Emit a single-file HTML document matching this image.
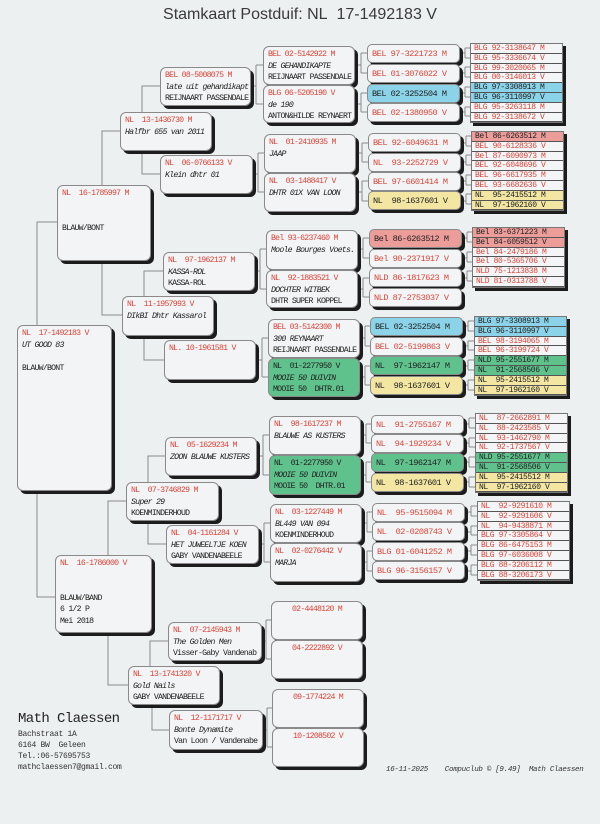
<!DOCTYPE html>
<html><head><meta charset="utf-8"><style>
body{margin:0;width:600px;height:824px;background:#edf0f1;position:relative;overflow:hidden;font-family:"Liberation Mono",monospace}
.t{position:absolute;left:0;top:6px;width:600px;text-align:center;font:16px "Liberation Sans",sans-serif;color:#3a3a3a;padding-left:0}
.b{position:absolute;border:1px solid #8a8a8a;border-radius:6px;background:#f3f4f5;box-shadow:3px 3px 0 #1c1c1c;font-size:8.2px;letter-spacing:-0.75px;line-height:11.5px;padding:2px 0 0 4px;white-space:pre;overflow:hidden;box-sizing:border-box;color:#222}
.r{color:#d9463b}.i{font-style:italic}
.s{position:absolute;border:1px solid #8a8a8a;border-radius:5px;background:#f3f4f5;box-shadow:3px 3px 0 #1c1c1c;font-size:8.6px;letter-spacing:-0.5px;height:19px;line-height:18px;padding-left:4px;white-space:pre;box-sizing:border-box;color:#d9463b}
.g{position:absolute;border:1px solid #777;background:#f4f5f6;box-shadow:3px 3px 0 #1c1c1c;box-sizing:border-box;width:93px}
.g div{height:9.8px;line-height:10px;font-size:8px;letter-spacing:-0.4px;padding-left:3px;border-bottom:1px solid #555;box-sizing:border-box;white-space:pre;color:#d9463b;overflow:hidden}
.bl{background:#8ad3e8 !important;color:#222 !important}
.gr{background:#5fc28c !important;color:#222 !important}
.ye{background:#f2e6a2 !important;color:#222 !important}
.pk{background:#ec9d9a !important;color:#222 !important}
.c{text-align:center;padding-left:0}
svg{position:absolute;left:0;top:0}
.f{position:absolute;font-size:8px;color:#333;white-space:pre;letter-spacing:-0.3px}
</style></head><body>
<div class="t">Stamkaart Postduif: NL&nbsp;&nbsp;17-1492183 V</div>
<svg width="600" height="824" fill="none" stroke="#8a8a8a" stroke-width="1">
<path d="M37 325V222H57M37 490V597H55"/>
<path d="M102 185V131H120M102 260V315H122"/>
<path d="M142 112V86H160M142 150V174H160M144 296V271H163M144 335V360H164"/>
<path d="M108 555V501H126M108 632V685H128M148 482V456H165M148 521V544H166M150 666V641H168M152 705V730H169"/>
<path d="M250 86H256M256 65V104M256 65H263M256 104H263"/>
<path d="M253 174H258M258 153V192M258 153H264M258 192H264"/>
<path d="M255 271H260M260 249V289M260 249H266M260 289H266"/>
<path d="M256 360H262M262 338V377M262 338H268M262 377H268"/>
<path d="M257 456H263M263 435V475M263 435H269M263 475H269"/>
<path d="M259 544H264M264 523V562M264 523H270M264 562H270"/>
<path d="M262 641H266M266 620V659M266 620H271M266 659H271"/>
<path d="M263 730H267M267 708V747M267 708H272M267 747H272"/>
<path d="M355 65H361M361 53V73M361 53H367M361 73H367M355 104H361M361 93V112M361 93H367M361 112H367"/>
<path d="M356 153H362M362 143V162M362 143H368M362 162H368M356 192H362M362 181V201M362 181H368M362 201H368"/>
<path d="M358 249H363M363 238V258M363 238H369M363 258H369M358 289H363M363 278V297M363 278H369M363 297H369"/>
<path d="M360 338H365M365 326V346M365 326H370M365 346H370M360 377H365M365 366V385M365 366H370M365 385H370"/>
<path d="M361 435H366M366 424V443M366 424H371M366 443H371M361 475H366M366 462V482M366 462H371M366 482H371"/>
<path d="M362 523H367M367 512V532M367 512H372M367 532H372M362 562H367M367 551V571M367 551H372M367 571H372"/>
<path d="M460 53H465M465 48V58M465 48H470M465 58H470M460 73H465M465 67V77M465 67H470M465 77H470M460 93H465M465 87V97M465 87H470M465 97H470M460 112H465M465 107V116M465 107H470M465 116H470"/>
<path d="M461 143H466M466 136V146M466 136H471M466 146H471M461 162H466M466 155V165M466 155H471M466 165H471M461 181H466M466 175V185M466 175H471M466 185H471M461 201H466M466 194V204M466 194H471M466 204H471"/>
<path d="M462 238H467M467 232V242M467 232H472M467 242H472M462 258H467M467 252V262M467 252H472M467 262H472M462 278H467M467 271V281M467 271H472M467 281H472"/>
<path d="M463 326H468M468 321V331M468 321H474M468 331H474M463 346H468M468 341V350M468 341H474M468 350H474M463 366H468M468 360V370M468 360H474M468 370H474M463 385H468M468 380V390M468 380H474M468 390H474"/>
<path d="M464 424H469M469 418V428M469 418H475M469 428H475M464 443H469M469 438V447M469 438H475M469 447H475M464 462H469M469 457V467M469 457H475M469 467H475M464 482H469M469 477V487M469 477H475M469 487H475"/>
<path d="M465 512H471M471 506V516M471 506H477M471 516H477M465 532H471M471 526V535M471 526H477M471 535H477M465 551H471M471 545V555M471 545H477M471 555H477M465 571H471M471 565V575M471 565H477M471 575H477"/>
</svg>

<div class="b" style="left:17px;top:325px;width:95px;height:166px"><span class="r">NL  17-1492183 V</span>
<span class="i">UT GOOD 83</span>

BLAUW/BONT</div>
<div class="b" style="left:57px;top:185px;width:94px;height:76px"><span class="r">NL  16-1785997 M</span>


BLAUW/BONT</div>
<div class="b" style="left:55px;top:555px;width:97px;height:78px"><span class="r">NL  16-1786000 V</span>


BLAUW/BAND
6 1/2 P
Mei 2018</div>

<div class="b" style="left:120px;top:112px;width:92px;height:39px"><span class="r">NL  13-1436730 M</span>
<span class="i">Halfbr 655 van 2011</span></div>
<div class="b" style="left:122px;top:296px;width:92px;height:40px"><span class="r">NL  11-1957993 V</span>
<span class="i">DIkBI Dhtr Kassarol</span></div>
<div class="b" style="left:126px;top:482px;width:93px;height:39px"><span class="r">NL  07-3746829 M</span>
<span class="i">Super 29</span>
KOENMINDERHOUD</div>
<div class="b" style="left:128px;top:666px;width:92px;height:39px"><span class="r">NL  13-1741320 V</span>
<span class="i">Gold Nails</span>
GABY VANDENABEELE</div>

<div class="b" style="left:160px;top:67px;width:91px;height:39px"><span class="r">BEL 08-5008075 M</span>
<span class="i">late uit gehandikapt</span>
REIJNAART PASSENDALE</div>
<div class="b" style="left:160px;top:155px;width:93px;height:39px"><span class="r">NL  06-0766133 V</span>
<span class="i">Klein dhtr 01</span></div>
<div class="b" style="left:163px;top:252px;width:92px;height:39px"><span class="r">NL  97-1962137 M</span>
<span class="i">KASSA-ROL</span>
KASSA-ROL</div>
<div class="b" style="left:164px;top:340px;width:92px;height:40px"><span class="r">NL. 10-1961581 V</span></div>
<div class="b" style="left:165px;top:437px;width:92px;height:39px"><span class="r">NL  05-1629234 M</span>
<span class="i">ZOON BLAUWE KUSTERS</span></div>
<div class="b" style="left:166px;top:525px;width:93px;height:39px"><span class="r">NL  04-1161284 V</span>
<span class="i">HET JUWEELTJE KOEN</span>
GABY VANDENABEELE</div>
<div class="b" style="left:168px;top:622px;width:94px;height:39px"><span class="r">NL  07-2145943 M</span>
<span class="i">The Golden Men</span>
Visser-Gaby Vandenab</div>
<div class="b" style="left:169px;top:710px;width:94px;height:40px"><span class="r">NL  12-1171717 V</span>
<span class="i">Bonte Dynamite</span>
Van Loon / Vandenabe</div>

<div class="b" style="left:263px;top:46px;width:92px;height:39px"><span class="r">BEL 02-5142922 M</span>
<span class="i">DE GEHANDIKAPTE</span>
REIJNAART PASSENDALE</div>
<div class="b" style="left:263px;top:85px;width:92px;height:38px"><span class="r">BLG 06-5205190 V</span>
<span class="i">de 190</span>
ANTON&amp;HILDE REYNAERT</div>
<div class="b" style="left:264px;top:134px;width:92px;height:39px"><span class="r">NL  01-2410935 M</span>
<span class="i">JAAP</span></div>
<div class="b" style="left:264px;top:173px;width:92px;height:39px"><span class="r">NL  03-1488417 V</span>
<span class="i">DHTR 01X VAN LOON</span></div>
<div class="b" style="left:266px;top:230px;width:92px;height:40px"><span class="r">Bel 93-6237460 M</span>
<span class="i">Moole Bourges Voets.</span></div>
<div class="b" style="left:266px;top:270px;width:92px;height:38px"><span class="r">NL  92-1883521 V</span>
<span class="i">DOCHTER WITBEK</span>
DHTR SUPER KOPPEL</div>
<div class="b" style="left:268px;top:319px;width:92px;height:39px"><span class="r">BEL 03-5142300 M</span>
<span class="i">300 REYNAART</span>
REIJNAART PASSENDALE</div>
<div class="b gr" style="left:268px;top:358px;width:92px;height:39px">NL  01-2277950 V
<span class="i">MOOIE 50 DUIVIN</span>
MOOIE 50  DHTR.01</div>
<div class="b" style="left:269px;top:416px;width:92px;height:39px"><span class="r">NL  98-1617237 M</span>
<span class="i">BLAUWE AS KUSTERS</span></div>
<div class="b gr" style="left:269px;top:455px;width:92px;height:40px">NL  01-2277950 V
<span class="i">MOOIE 50 DUIVIN</span>
MOOIE 50  DHTR.01</div>
<div class="b" style="left:270px;top:504px;width:92px;height:39px"><span class="r">NL  03-1227449 M</span>
<span class="i">BL449 VAN 094</span>
KOENMINDERHOUD</div>
<div class="b" style="left:270px;top:543px;width:92px;height:39px"><span class="r">NL  02-0276442 V</span>
<span class="i">MARJA</span></div>
<div class="b c" style="left:271px;top:601px;width:92px;height:39px"><span class="r">02-4448120 M</span></div>
<div class="b c" style="left:271px;top:640px;width:92px;height:39px"><span class="r">04-2222892 V</span></div>
<div class="b c" style="left:272px;top:689px;width:92px;height:39px"><span class="r">09-1774224 M</span></div>
<div class="b c" style="left:272px;top:728px;width:92px;height:39px"><span class="r">10-1208502 V</span></div>

<div class="s" style="left:367px;top:44px;width:93px">BEL 97-3221723 M</div>
<div class="s" style="left:367px;top:64px;width:93px">BEL 01-3076022 V</div>
<div class="s bl" style="left:367px;top:84px;width:93px">BEL 02-3252504 M</div>
<div class="s" style="left:367px;top:103px;width:93px">BEL 02-1380950 V</div>
<div class="s" style="left:368px;top:133px;width:93px">BEL 92-6049631 M</div>
<div class="s" style="left:368px;top:153px;width:93px">NL  93-2252729 V</div>
<div class="s" style="left:368px;top:172px;width:93px">BEL 97-6601414 M</div>
<div class="s ye" style="left:368px;top:191px;width:93px">NL  98-1637601 V</div>
<div class="s pk" style="left:369px;top:229px;width:93px">Bel 86-6263512 M</div>
<div class="s" style="left:369px;top:249px;width:93px">Bel 90-2371917 V</div>
<div class="s" style="left:369px;top:268px;width:93px">NLD 86-1817623 M</div>
<div class="s" style="left:369px;top:288px;width:93px">NLD 87-2753037 V</div>
<div class="s bl" style="left:370px;top:317px;width:93px">BEL 02-3252504 M</div>
<div class="s" style="left:370px;top:337px;width:93px">BEL 02-5199863 V</div>
<div class="s gr" style="left:370px;top:356px;width:93px">NL  97-1962147 M</div>
<div class="s ye" style="left:370px;top:376px;width:93px">NL  98-1637601 V</div>
<div class="s" style="left:371px;top:415px;width:93px">NL  91-2755167 M</div>
<div class="s" style="left:371px;top:434px;width:93px">NL  94-1929234 V</div>
<div class="s gr" style="left:371px;top:453px;width:93px">NL  97-1962147 M</div>
<div class="s ye" style="left:371px;top:473px;width:93px">NL  98-1637601 V</div>
<div class="s" style="left:372px;top:503px;width:93px">NL  95-9515094 M</div>
<div class="s" style="left:372px;top:522px;width:93px">NL  02-0208743 V</div>
<div class="s" style="left:372px;top:542px;width:93px">BLG 01-6041252 M</div>
<div class="s" style="left:372px;top:561px;width:93px">BLG 96-3156157 V</div>

<div class="g" style="left:470px;top:43px"><div>BLG 92-3138647 M</div><div>BLG 95-3336674 V</div><div>BLG 99-3020065 M</div><div>BLG 00-3146013 V</div><div class="bl">BLG 97-3308913 M</div><div class="bl">BLG 96-3110997 V</div><div>BLG 95-3263118 M</div><div>BLG 92-3138672 V</div></div>
<div class="g" style="left:471px;top:131px"><div class="pk">Bel 86-6263512 M</div><div>BEL 90-6128336 V</div><div>Bel 87-6090973 M</div><div>BEL 92-6048696 V</div><div>BEL 96-6617935 M</div><div>BEL 93-6682636 V</div><div class="ye">NL  95-2415512 M</div><div class="ye">NL  97-1962160 V</div></div>
<div class="g" style="left:472px;top:227px"><div class="pk">Bel 83-6371223 M</div><div class="pk">Bel 84-6059512 V</div><div>Bel 84-2479186 M</div><div>Bel 80-5365706 V</div><div>NLD 75-1213838 M</div><div>NLD 81-0313788 V</div></div>
<div class="g" style="left:474px;top:316px"><div class="bl">BLG 97-3308913 M</div><div class="bl">BLG 96-3110997 V</div><div>BEL 98-3194065 M</div><div>BEL 96-3199724 V</div><div class="gr">NLD 95-2551677 M</div><div class="gr">NL  91-2568506 V</div><div class="ye">NL  95-2415512 M</div><div class="ye">NL  97-1962160 V</div></div>
<div class="g" style="left:475px;top:413px"><div>NL  87-2662891 M</div><div>NL  88-2423585 V</div><div>NL  93-1462790 M</div><div>NL  92-1737567 V</div><div class="gr">NLD 95-2551677 M</div><div class="gr">NL  91-2568506 V</div><div class="ye">NL  95-2415512 M</div><div class="ye">NL  97-1962160 V</div></div>
<div class="g" style="left:477px;top:501px"><div>NL  92-9291610 M</div><div>NL  92-9291606 V</div><div>NL  94-9438871 M</div><div>BLG 97-3305864 V</div><div>BLG 86-6475153 M</div><div>BLG 97-6036008 V</div><div>BLG 88-3206112 M</div><div>BLG 88-3206173 V</div></div>

<div class="f" style="left:18px;top:711px;font-size:14px;letter-spacing:-0.6px;color:#222">Math Claessen</div>
<div class="f" style="left:18px;top:729px;line-height:11px">Bachstraat 1A
6164 BW  Geleen
Tel.:06-57695753
mathclaessen7@gmail.com</div>
<div class="f" style="left:386px;top:766px;font-size:7.5px;font-style:italic">16-11-2025    Compuclub © [9.49]  Math Claessen</div>
</body></html>
